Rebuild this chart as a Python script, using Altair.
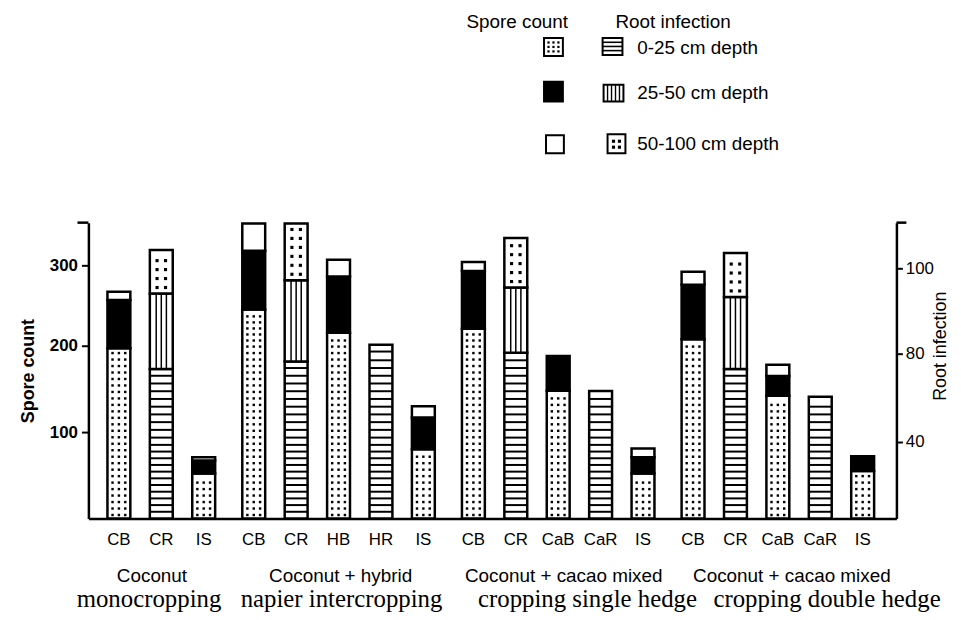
import altair as alt
import pandas as pd

# ---------------- data ----------------
bar_labels = ["CB", "CR", "IS", "CB", "CR", "HB", "HR", "IS", "CB", "CR",
              "CaB", "CaR", "IS", "CB", "CR", "CaB", "CaR", "IS"]
bar_group = [0, 0, 0, 1, 1, 1, 1, 1, 2, 2, 2, 2, 2, 3, 3, 3, 3, 3]

# Spore count bars: stacked segments (dotted bottom, black middle, white top)
spore_dotted = [197, None, 52, 245, None, 216, None, 80, 221, None, 148, None, 52, 208, None, 142, None, 55]
spore_black = [60, None, 15, 73, None, 70, None, 37, 72, None, 40, None, 19, 68, None, 23, None, 17]
spore_white = [10, None, 4, 34, None, 21, None, 13, 11, None, 0, None, 10, 16, None, 13, None, 0]

# Root infection bars: stacked by soil depth
root_0_25 = [None, 73.1, None, None, 76.5, None, 82.1, None, None, 80.2, None, 63.1, None, None, 73.1, None, 60.5, None]
root_25_50 = [None, 21.0, None, None, 20.7, None, 0, None, None, 15.3, None, 0, None, None, 20.2, None, 0, None]
root_50_100 = [None, 10.2, None, None, 13.3, None, 0, None, None, 11.6, None, 0, None, None, 10.3, None, 0, None]

group_line1 = ["Coconut", "Coconut + hybrid", "Coconut + cacao mixed", "Coconut + cacao mixed"]
group_line2 = ["monocropping", "napier intercropping", "cropping single hedge", "cropping double hedge"]

left_ticks = [100, 200, 300]
right_ticks = [40, 80, 100]

legend_spore_title = "Spore count"
legend_root_title = "Root infection"
legend_root_labels = ["0-25 cm depth", "25-50 cm depth", "50-100 cm depth"]

# ---------------- layout / style ----------------
W, H = 814, 298
GAP = 0.18          # extra gap between groups (in bar slots)
HALF = 0.27         # half bar width (in bar slots)
SANS = "Liberation Sans"
SERIF = "Liberation Serif"
X_SCALE = alt.Scale(domain=[-0.719, 18.336], nice=False, zero=False)
LEFT_SCALE = alt.Scale(domain=[0, 100, 200, 300, 353], range=[298, 211, 124, 43, 0], nice=False, zero=False)
RIGHT_SCALE = alt.Scale(domain=[0, 40, 80, 100, 110.7], range=[298, 221, 132, 46, 0], nice=False, zero=False)
line1_x = [0.78, 5.23, 10.49, 15.87]
line2_x = [0.71, 5.25, 11.05, 16.7]

# ---------------- tables built from the data ----------------
sp_seg, rt_seg, sp_dots, hl, vl, rt_dots, ticks = [], [], [], [], [], [], []
for i, lab in enumerate(bar_labels):
    pos = i + GAP * bar_group[i]
    xl, xr = pos - HALF, pos + HALF
    ticks.append(dict(pos=pos, label=lab))
    if spore_dotted[i] is not None:
        d, b, w = spore_dotted[i], spore_black[i], spore_white[i]
        sp_seg.append(dict(xl=xl, xr=xr, y0=0, y1=d, fill="white"))
        sp_seg.append(dict(xl=xl, xr=xr, y0=d, y1=d + b, fill="black"))
        if w > 0:
            sp_seg.append(dict(xl=xl, xr=xr, y0=d + b, y1=d + b + w, fill="white"))
        y = 4.0
        while y < d - 3:
            for off in (-0.15, 0.0, 0.15):
                sp_dots.append(dict(x=pos + off, y=y))
            y += 7.5
    else:
        h, v, dd = root_0_25[i], root_25_50[i], root_50_100[i]
        rt_seg.append(dict(xl=xl, xr=xr, y0=0, y1=h))
        y = 3.5
        while y < h - 1.2:
            hl.append(dict(xl=xl, xr=xr, y=y))
            y += 3.5
        if v > 0:
            rt_seg.append(dict(xl=xl, xr=xr, y0=h, y1=h + v))
            for off in (-0.12, 0.0, 0.12):
                vl.append(dict(x=pos + off, y0=h, y1=h + v))
        if dd > 0:
            rt_seg.append(dict(xl=xl, xr=xr, y0=h + v, y1=h + v + dd))
            y = h + v + 1.4
            while y < h + v + dd - 0.9:
                for off in (-0.1, 0.1):
                    rt_dots.append(dict(x=pos + off, y=y))
                y += 2.1

sp_seg = pd.DataFrame(sp_seg)
rt_seg = pd.DataFrame(rt_seg)
sp_dots = pd.DataFrame(sp_dots)
hl = pd.DataFrame(hl)
vl = pd.DataFrame(vl)
rt_dots = pd.DataFrame(rt_dots)
ticks = pd.DataFrame(ticks)
g1 = pd.DataFrame(dict(x=line1_x, t=group_line1))
g2 = pd.DataFrame(dict(x=line2_x, t=group_line2))

NOX = alt.X("x:Q", scale=X_SCALE, axis=None)

x_axis = alt.Axis(domain=True, domainColor="black", domainWidth=2.5, labels=False,
                  ticks=False, grid=False, title=None)
left_axis = alt.Axis(orient="left", values=left_ticks, tickSize=7, tickWidth=2, tickColor="black",
                     domainColor="black", domainWidth=2.5, grid=False,
                     labelFont=SANS, labelFontSize=17, labelFontWeight="bold", labelColor="black",
                     labelPadding=4, title="Spore count", titleFont=SANS, titleFontSize=18,
                     titleFontWeight="bold", titleColor="black", titleAngle=270,
                     titleX=-60, titleY=149, titleAlign="center", titleBaseline="middle")
right_axis = alt.Axis(orient="right", values=right_ticks, tickSize=6, tickWidth=2, tickColor="black",
                      domainColor="black", domainWidth=2.5, grid=False,
                      labelFont=SANS, labelFontSize=17, labelColor="black",
                      labelPadding=3, title="Root infection", titleFont=SANS, titleFontSize=18,
                      titleFontWeight="normal", titleColor="black", titleAngle=270,
                      titleX=44, titleY=124, titleAlign="center", titleBaseline="middle")

spore_bars = alt.Chart(sp_seg).mark_rect(stroke="black", strokeWidth=2.5).encode(
    x=alt.X("xl:Q", scale=X_SCALE, axis=x_axis), x2="xr:Q",
    y=alt.Y("y0:Q", scale=LEFT_SCALE, axis=left_axis), y2="y1:Q",
    fill=alt.Fill("fill:N", scale=None))
spore_dot_layer = alt.Chart(sp_dots).mark_point(shape="square", filled=True, size=6, color="black", opacity=1).encode(
    x=NOX, y=alt.Y("y:Q", scale=LEFT_SCALE, axis=None))

root_bars = alt.Chart(rt_seg).mark_rect(stroke="black", strokeWidth=2.5, fill="white").encode(
    x=alt.X("xl:Q", scale=X_SCALE, axis=None), x2="xr:Q",
    y=alt.Y("y0:Q", scale=RIGHT_SCALE, axis=right_axis), y2="y1:Q")
hstripes = alt.Chart(hl).mark_rule(color="black", strokeWidth=2).encode(
    x=alt.X("xl:Q", scale=X_SCALE, axis=None), x2="xr:Q",
    y=alt.Y("y:Q", scale=RIGHT_SCALE, axis=None))
vstripes = alt.Chart(vl).mark_rule(color="black", strokeWidth=1.5).encode(
    x=NOX, y=alt.Y("y0:Q", scale=RIGHT_SCALE, axis=None), y2="y1:Q")
root_dot_layer = alt.Chart(rt_dots).mark_point(shape="square", filled=True, size=10, color="black", opacity=1).encode(
    x=NOX, y=alt.Y("y:Q", scale=RIGHT_SCALE, axis=None))

tick_text = alt.Chart(ticks).mark_text(font=SANS, fontSize=17, baseline="middle", color="black").encode(
    x=alt.X("pos:Q", scale=X_SCALE, axis=None), y=alt.value(320), text="label:N")
line1_text = alt.Chart(g1).mark_text(font=SANS, fontSize=19, baseline="middle", color="black").encode(
    x=NOX, y=alt.value(356), text="t:N")
line2_text = alt.Chart(g2).mark_text(font=SERIF, fontSize=25, baseline="alphabetic", color="black").encode(
    x=NOX, y=alt.value(387), text="t:N")

# ---------------- custom legend (pixel layout) ----------------
PX = lambda f: alt.X(f, scale=None, axis=None)
PY = lambda f: alt.Y(f, scale=None, axis=None)
leg_rect = pd.DataFrame(dict(
    x0=[459, 459, 461, 518, 519, 523], x1=[478, 478, 479, 538, 539, 541],
    y0=[-186, -142, -88, -186, -139, -89], y1=[-168, -122, -70, -169, -122, -70],
    fill=["white", "black", "white", "white", "white", "white"]))
leg_hline = pd.DataFrame(dict(
    x0=[518, 518, 518, -11, W], x1=[538, 538, 538, 0, W + 10],
    y=[-181.7, -177.5, -173.3, 0, 0], w=[1.6, 1.6, 1.6, 2.5, 2.5]))
leg_vline = pd.DataFrame(dict(x=[523, 527, 531, 535], y0=[-139] * 4, y1=[-122] * 4))
leg_dot = pd.DataFrame(dict(
    x=[463.5, 468.5, 473.5] * 3 + [529, 535, 529, 535],
    y=[-181.5] * 3 + [-177] * 3 + [-172.5] * 3 + [-82, -82, -76, -76],
    s=[5] * 9 + [10] * 4))
leg_text = pd.DataFrame(dict(
    x=[553, 553, 553], y=[-176, -131, -79], t=legend_root_labels))
leg_head = pd.DataFrame(dict(x=[432, 589], y=[-202, -202], t=[legend_spore_title, legend_root_title]))

lr = alt.Chart(leg_rect).mark_rect(stroke="black", strokeWidth=2).encode(
    x=PX("x0:Q"), x2="x1:Q", y=PY("y0:Q"), y2="y1:Q", fill=alt.Fill("fill:N", scale=None))
lh = alt.Chart(leg_hline).mark_rule(color="black").encode(
    x=PX("x0:Q"), x2="x1:Q", y=PY("y:Q"), strokeWidth=alt.StrokeWidth("w:Q", scale=None))
lv = alt.Chart(leg_vline).mark_rule(color="black", strokeWidth=1.4).encode(
    x=PX("x:Q"), y=PY("y0:Q"), y2="y1:Q")
ld = alt.Chart(leg_dot).mark_point(shape="square", filled=True, color="black", opacity=1).encode(
    x=PX("x:Q"), y=PY("y:Q"), size=alt.Size("s:Q", scale=None))
lt = alt.Chart(leg_text).mark_text(font=SANS, fontSize=19, align="left", baseline="middle", color="black").encode(
    x=PX("x:Q"), y=PY("y:Q"), text="t:N")
lhd = alt.Chart(leg_head).mark_text(font=SANS, fontSize=19, align="center", baseline="middle", color="black").encode(
    x=PX("x:Q"), y=PY("y:Q"), text="t:N")

chart = alt.layer(
    spore_bars, spore_dot_layer, root_bars, hstripes, vstripes, root_dot_layer,
    tick_text, line1_text, line2_text, lr, lh, lv, ld, lt, lhd
).resolve_scale(x="independent", y="independent").properties(
    width=W, height=H,
    autosize=alt.AutoSizeParams(type="none"),
    padding={"left": 81, "top": 214, "right": 57, "bottom": 92},
    background="white",
).configure_view(stroke=None)

chart.save("out.html", embed_options={"renderer": "svg", "actions": False})
